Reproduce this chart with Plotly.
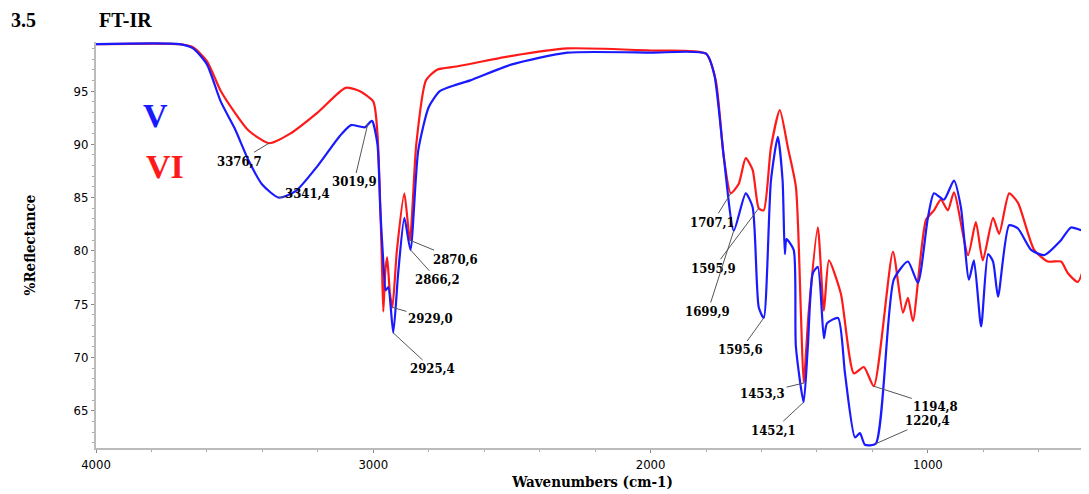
import plotly.graph_objects as go

# FT-IR spectra (wavenumber cm-1, %reflectance)
wn_v = [4000, 3700, 3650, 3600, 3550, 3500, 3450, 3400, 3341, 3280, 3200, 3120, 3080, 3030, 3005, 2985,
        2975, 2964, 2955, 2946, 2928, 2910, 2888, 2866, 2838, 2800, 2760, 2700, 2650, 2500, 2300, 2000,
        1800, 1770, 1736, 1700, 1657, 1632, 1610, 1592, 1566, 1541, 1524, 1516, 1510, 1484, 1476, 1448,
        1433, 1415, 1397, 1375, 1364, 1324, 1299, 1263, 1245, 1227, 1188, 1123, 1072, 1036, 1000, 978,
        942, 906, 881, 852, 834, 808, 783, 765, 747, 707, 675, 628, 581, 520, 484, 433, 420]
v_vals = [99.4, 99.4, 99.0, 97.5, 94.0, 91.5, 88.5, 86.2, 85.0, 85.6, 88.0, 90.8, 91.8, 91.6, 92.2, 90.0,
          84.0, 79.0, 76.3, 76.6, 72.3, 78.0, 83.1, 80.1, 89.4, 93.5, 95.0, 95.6, 96.0, 97.5, 98.6, 98.6,
          98.5, 96.5, 88.8, 81.9, 85.4, 84.1, 74.7, 73.7, 86.6, 90.7, 86.6, 79.7, 81.1, 80.1, 71.0, 65.8,
          71.0, 77.9, 78.5, 71.8, 73.2, 73.7, 68.5, 62.5, 62.9, 61.8, 61.9, 77.3, 79.0, 77.0, 83.1, 85.4,
          84.8, 86.6, 84.1, 77.3, 79.1, 72.9, 79.7, 79.0, 75.7, 82.4, 82.1, 80.1, 79.6, 81.0, 82.2, 81.9, 86.0]

wn_vi = [4000, 3700, 3650, 3600, 3550, 3500, 3450, 3376, 3300, 3200, 3100, 3050, 3000, 2985, 2970,
         2964, 2957, 2950, 2940, 2931, 2915, 2888, 2868, 2845, 2810, 2770, 2700, 2500, 2300, 2000,
         1800, 1765, 1736, 1711, 1682, 1657, 1632, 1610, 1592, 1566, 1534, 1505, 1476, 1458, 1448,
         1430, 1397, 1375, 1357, 1314, 1267, 1231, 1195, 1126, 1090, 1072, 1054, 1007, 978, 953,
         928, 906, 855, 827, 802, 765, 743, 707, 675, 617, 567, 520, 495, 459, 420]
vi_vals = [99.4, 99.4, 99.1, 97.8, 95.0, 93.0, 91.3, 90.1, 91.0, 93.0, 95.3, 95.0, 94.0, 91.0, 80.0,
           74.3, 78.0, 79.4, 76.0, 74.7, 80.0, 85.4, 81.0, 90.0, 96.0, 97.0, 97.3, 98.3, 99.0, 98.8,
           98.5, 96.0, 88.8, 85.4, 86.3, 88.7, 87.6, 84.0, 83.8, 89.7, 93.2, 89.7, 86.0, 74.2, 67.6,
           74.2, 82.2, 74.4, 79.1, 76.0, 68.5, 69.1, 67.3, 79.9, 74.2, 75.6, 73.4, 82.9, 83.8, 84.8,
           83.8, 85.5, 79.6, 82.7, 79.1, 83.1, 81.6, 85.4, 84.5, 80.1, 79.0, 79.0, 77.9, 77.1, 80.4]

# peak labels: text, wavenumber, value, label offset (px)
peaks = [
    ("3376,7", 3376, 90.1, -30, 18), ("3341,4", 3341, 85.0, 29, -4), ("3019,9", 3019, 92.0, -14, 59),
    ("2870,6", 2868, 81.0, 46, 19), ("2866,2", 2866, 80.1, 27, 30), ("2929,0", 2931, 74.7, 38, 11),
    ("2925,4", 2928, 72.3, 39, 36), ("1707,1", 1711, 85.4, -18, 29), ("1595,9", 1610, 84.0, -45, 60),
    ("1699,9", 1700, 81.9, -26, 81), ("1595,6", 1592, 73.7, -23, 32), ("1453,3", 1448, 67.6, -41, 10),
    ("1452,1", 1448, 65.8, -30, 28), ("1194,8", 1195, 67.3, 62, 20), ("1220,4", 1188, 61.9, 52, -23),
]

font = "Liberation Serif"
fig = go.Figure()
fig.add_trace(go.Scatter(x=wn_vi, y=vi_vals, mode="lines", line=dict(color="#ff1a1a", width=2.2, shape="spline", smoothing=0.6), name="VI"))
fig.add_trace(go.Scatter(x=wn_v, y=v_vals, mode="lines", line=dict(color="#1a1aff", width=2.2, shape="spline", smoothing=0.6), name="V"))

for txt, x, y, ax, ay in peaks:
    fig.add_annotation(x=x, y=y, text="<b>" + txt + "</b>", showarrow=True, arrowhead=0, arrowwidth=1,
                       arrowcolor="#555555", ax=ax, ay=ay, standoff=0,
                       font=dict(family="DejaVu Serif Condensed", size=13, color="black"))

fig.add_annotation(xref="paper", yref="paper", x=0.045, y=0.87, text="<b>V</b>", showarrow=False,
                   font=dict(family=font, size=34, color="#1a1aff"))
fig.add_annotation(xref="paper", yref="paper", x=0.048, y=0.745, text="<b>VI</b>", showarrow=False,
                   font=dict(family=font, size=34, color="#ff1a1a"))
fig.add_annotation(xref="paper", yref="paper", x=-0.088, y=1.055, xanchor="left", yanchor="middle",
                   text="<b>3.5</b>", showarrow=False, font=dict(family=font, size=20, color="black"))
fig.add_annotation(xref="paper", yref="paper", x=0.001, y=1.055, xanchor="left", yanchor="middle",
                   text="<b>FT-IR</b>", showarrow=False, font=dict(family=font, size=20, color="black"))

axis_common = dict(showline=True, linecolor="#bbbbbb", linewidth=2, showgrid=False, zeroline=False,
                   ticks="outside", ticklen=3, tickcolor="#888888",
                   tickprefix="<b>", ticksuffix="</b>",
                   tickfont=dict(family="DejaVu Sans Condensed", size=13, color="black"))
fig.update_xaxes(range=[4000, 419], tickvals=[4000, 3000, 2000, 1000],
                 minor=dict(tickvals=list(range(3800, 400, -200)), ticks="outside", ticklen=2, tickcolor="#aaaaaa"),
                 title=dict(text="<b>Wavenumbers (cm-1)</b>", font=dict(family="DejaVu Serif Condensed", size=15, color="black"), standoff=6),
                 **axis_common)
fig.update_yaxes(range=[61.5, 99.6], tickvals=[65, 70, 75, 80, 85, 90, 95],
                 minor=dict(tickvals=list(range(62, 100)), ticks="outside", ticklen=2, tickcolor="#aaaaaa"),
                 title=dict(text="<b>%Reflectance</b>", font=dict(family="DejaVu Serif Condensed", size=15, color="black"), standoff=34),
                 **axis_common)
fig.update_layout(width=1081, height=486, margin=dict(l=88, r=0, t=34, b=46, autoexpand=False),
                  plot_bgcolor="white", paper_bgcolor="white", showlegend=False)
fig.write_html("out.html")
